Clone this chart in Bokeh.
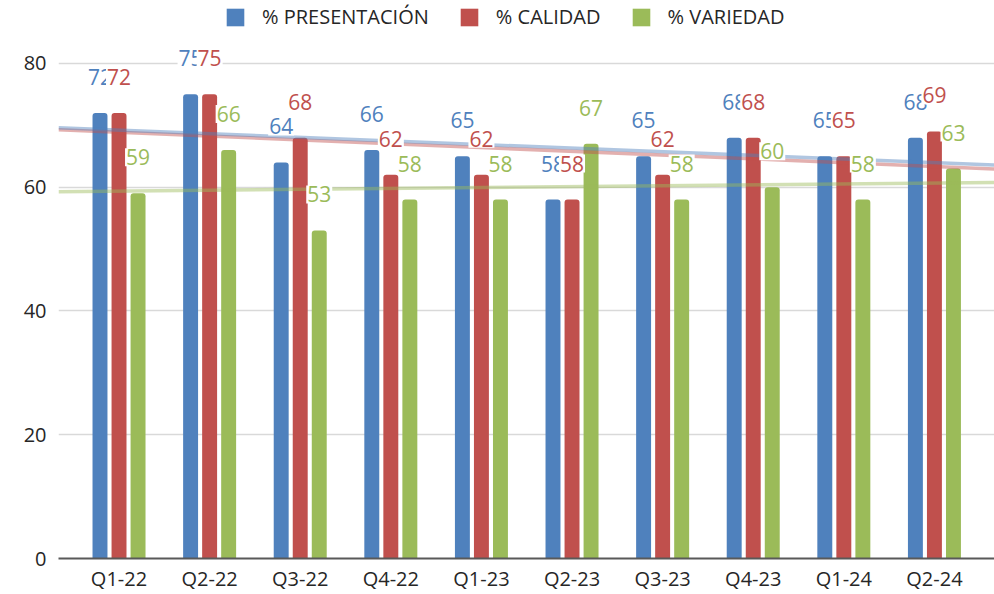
import numpy as np
from bokeh.plotting import figure
from bokeh.models import Range1d, FixedTicker, ColumnDataSource, Legend, LegendItem
from bokeh.transform import dodge
from bokeh.core.properties import value
from bokeh.embed import file_html
from bokeh.resources import INLINE

quarters = ["Q1-22", "Q2-22", "Q3-22", "Q4-22", "Q1-23", "Q2-23", "Q3-23", "Q4-23", "Q1-24", "Q2-24"]
presentacion = [72, 75, 64, 66, 65, 58, 65, 68, 65, 68]
calidad = [72, 75, 68, 62, 62, 58, 62, 68, 65, 69]
variedad = [59, 66, 53, 58, 58, 67, 58, 60, 58, 63]
series_names = ["% PRESENTACIÓN", "% CALIDAD", "% VARIEDAD"]
y_ticks = [0, 20, 40, 60, 80]

colors = ["#4F81BD", "#C0504D", "#9BBB59"]
FONT = "Open Sans"

xs = list(range(len(quarters)))
src = ColumnDataSource(dict(
    x=xs,
    p=presentacion, c=calidad, v=variedad,
    pl=[str(v) for v in presentacion],
    cl=[str(v) for v in calidad],
    vl=[str(v) for v in variedad],
))

p = figure(width=994, height=594,
           x_range=Range1d(-0.668, 9.663), y_range=Range1d(0, 90.16),
           output_backend="svg", toolbar_location=None,
           min_border_left=58, min_border_right=0, min_border_top=0, min_border_bottom=30)
p.outline_line_color = None
p.background_fill_color = "white"

offsets = [-0.21, 0.0, 0.21]
cols = ["p", "c", "v"]
lcols = ["pl", "cl", "vl"]
data_lists = [presentacion, calidad, variedad]

bar_renderers = []
for off, col, color in zip(offsets, cols, colors):
    r = p.vbar(x=dodge("x", off), top=col, width=0.165, source=src,
               fill_color=color, line_color=None, border_radius=(3, 3, 0, 0))
    bar_renderers.append(r)

# linear trend lines
x0, x1 = p.x_range.start, p.x_range.end
for i in [2, 1, 0]:
    vals = data_lists[i]
    m, b = np.polyfit(xs, vals, 1)
    p.line(x=[x0, x1], y=[m * x0 + b, m * x1 + b], line_color=colors[i],
           line_alpha=0.45, line_width=3.5)

for off, lcol, col, color in zip(offsets, lcols, cols, colors):
    p.text(x=dodge("x", off), y=col, text=lcol, source=src, y_offset=-36,
           text_align="center", text_baseline="middle",
           text_font=value(FONT), text_font_size="21px", text_color=color,
           background_fill_color="white", padding=1)

# axes
p.xaxis.ticker = FixedTicker(ticks=xs)
p.xaxis.major_label_overrides = {i: q for i, q in enumerate(quarters)}
p.xaxis.axis_line_color = "#595959"
p.xaxis.axis_line_width = 2
p.xaxis.major_tick_line_color = None
p.xaxis.major_tick_out = 0
p.xaxis.major_tick_in = 0
p.xaxis.minor_tick_line_color = None
p.xaxis.major_label_standoff = 6
p.xaxis.major_label_text_line_height = 1.0
p.xaxis.major_label_text_font = FONT
p.xaxis.major_label_text_font_size = "20px"
p.xaxis.major_label_text_color = "#262626"

p.yaxis.ticker = FixedTicker(ticks=y_ticks)
p.yaxis.axis_line_color = None
p.yaxis.major_tick_line_color = None
p.yaxis.major_tick_out = 0
p.yaxis.major_tick_in = 0
p.yaxis.minor_tick_line_color = None
p.yaxis.major_label_standoff = 12
p.yaxis.major_label_text_font = FONT
p.yaxis.major_label_text_font_size = "20px"
p.yaxis.major_label_text_color = "#262626"

p.xgrid.visible = False
p.ygrid.ticker = FixedTicker(ticks=y_ticks)
p.ygrid.grid_line_color = "#D9D9D9"
p.ygrid.grid_line_width = 1.5

legend = Legend(items=[LegendItem(label=n, renderers=[r]) for n, r in zip(series_names, bar_renderers)],
                location=(166, 528), orientation="horizontal",
                glyph_width=22, glyph_height=22, label_standoff=16, spacing=29,
                padding=0, margin=0, border_line_color=None, background_fill_alpha=0,
                label_text_font=FONT, label_text_font_size="20px", label_text_color="#262626",
                label_height=22)
p.add_layout(legend)

open("out.html", "w").write(file_html(p, INLINE))
